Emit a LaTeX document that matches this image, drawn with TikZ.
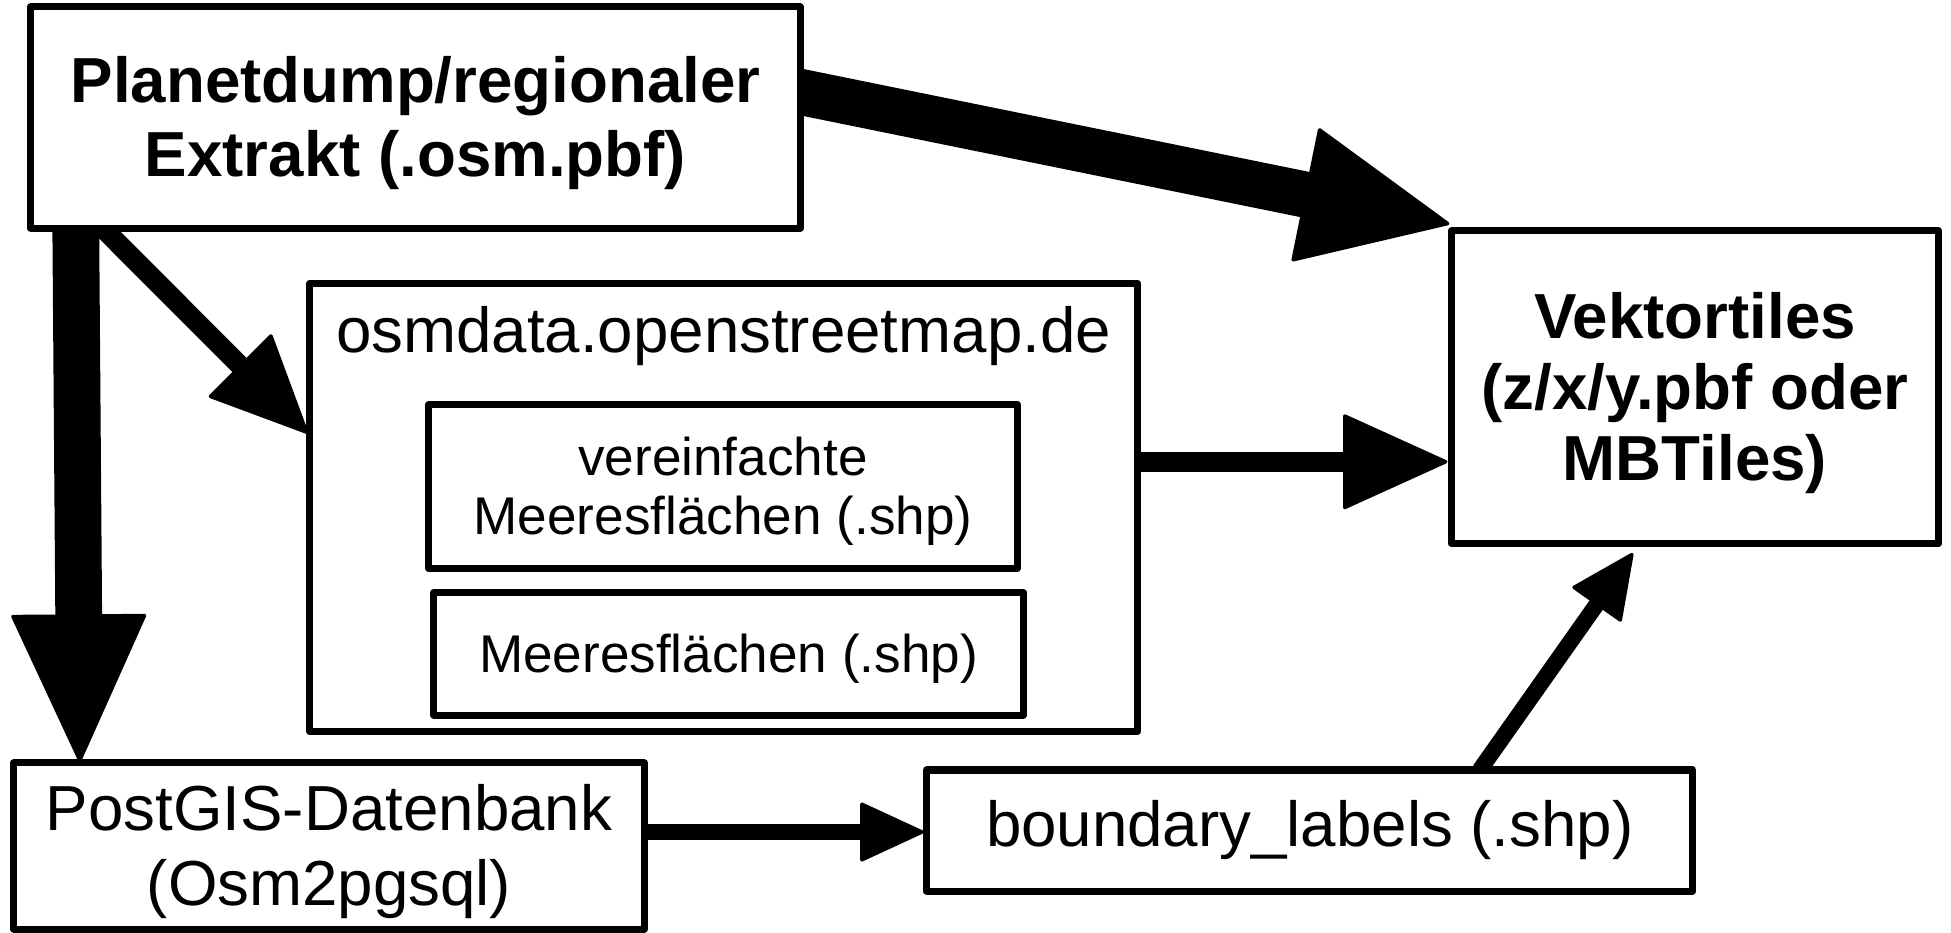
\documentclass[tikz,border=0pt]{standalone}
\usepackage{fontspec}
\setmainfont{Liberation Sans}
\usetikzlibrary{arrows.meta,calc,backgrounds}
\newcommand\lostrut{\rule[-0.212em]{0pt}{1.117em}}
\begin{document}
\begin{tikzpicture}[x=0.01cm,y=-0.01cm,
  box/.style={draw, line width=2pt, fill=white, inner sep=0pt, outer sep=0pt, align=center, line join=round},
  big/.style={font=\fontsize{18.1}{20.2}\selectfont},
  bigb/.style={font=\bfseries\fontsize{18.1}{20.2}\selectfont},
  small/.style={font=\fontsize{15.1}{16.9}\selectfont, align=center},
]
\useasboundingbox (0,0) rectangle (1951,932);

\node[box, bigb, minimum width=7.69cm, minimum height=2.21cm] (planet) at (415.5,117.5) {\lostrut Planetdump/regionaler\\Extrakt (.osm.pbf)\lostrut};
\node[box, minimum width=8.275cm, minimum height=4.475cm] (osm) at (723.75,507.25) {};
\node[big] (osmlabel) at (723.5,336) {osmdata.openstreetmap.de};
\node[box, small, minimum width=5.88cm, minimum height=1.64cm] (simple) at (723,486.5) {\lostrut vereinfachte\\Meeresflächen (.shp)\lostrut};
\node[box, small, minimum width=5.89cm, minimum height=1.225cm] (water) at (728.5,653.75) {\lostrut Meeresflächen (.shp)};
\node[box, bigb, minimum width=4.87cm, minimum height=3.125cm] (vt) at (1695,387.25) {\lostrut Vektortiles\\(z/x/y.pbf oder\\MBTiles)\lostrut};
\node[box, big, minimum width=6.3cm, minimum height=1.66cm] (pg) at (329,846) {\lostrut PostGIS-Datenbank\\(Osm2pgsql)\lostrut};
\node[box, big, minimum width=7.655cm, minimum height=1.21cm] (bl) at (1309.75,830.5) {boundary\_labels (.shp)};

\begin{pgfonlayer}{background}
\draw[line width=13.1pt, -{Triangle[length=42.7pt,width=39pt,line width=1pt,round]}]
  ($(planet.north east)+(-2,84.5)$) -- ($(vt.north west)+(-2,-7)$);
\draw[line width=5.7pt, -{Triangle[length=28.2pt,width=25.6pt,line width=1pt,round]}]
  ($(planet.south west)+(72,0)$) -- ($(osm.north west)+(-2,150)$);
\draw[line width=13.3pt, -{Triangle[length=42.7pt,width=38.7pt,line width=1pt,round]}]
  ($(planet.south west)+(45,0)$) -- ($(pg.north west)+(66,-1)$);
\draw[line width=5.7pt, -{Triangle[length=30.4pt,width=27.3pt,line width=1pt,round]}]
  ($(osm.east)+(0,-45.5)$) -- ($(vt.west)+(-4,74.5)$);
\draw[line width=4.3pt, -{Triangle[length=18.8pt,width=17.1pt,line width=1pt,round]}]
  ($(pg.east)+(0,-14)$) -- ($(bl.west)+(-3,1.5)$);
\draw[line width=4.6pt, -{Triangle[length=18.8pt,width=17.4pt,line width=1pt,round]}]
  ($(bl.north west)+(553,0)$) -- ($(vt.south west)+(181.5,9.5)$);
\end{pgfonlayer}
\end{tikzpicture}
\end{document}
